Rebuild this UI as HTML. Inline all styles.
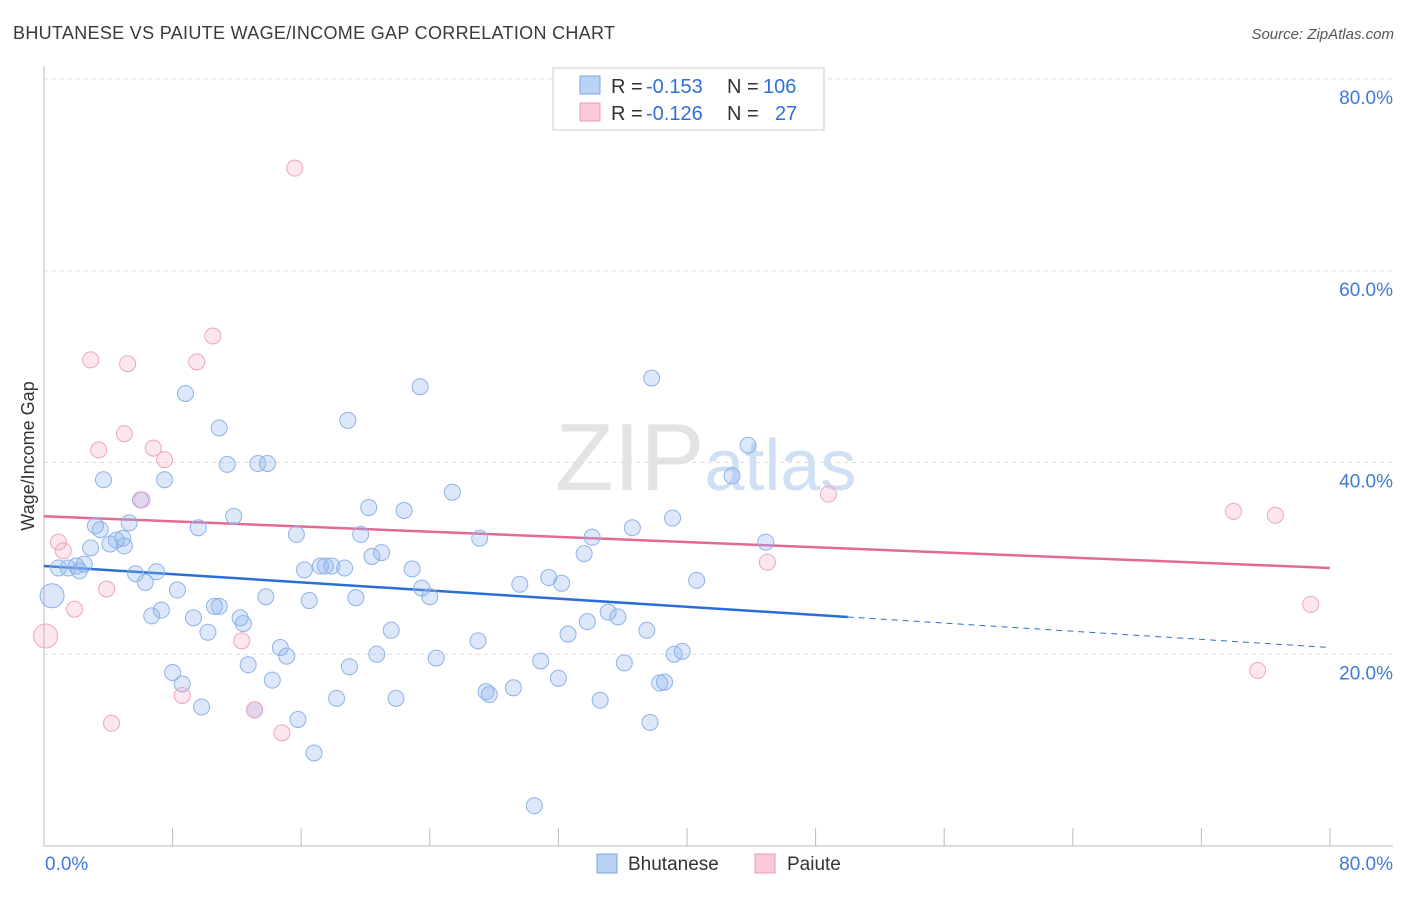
<!DOCTYPE html>
<html><head><meta charset="utf-8"><style>
body{margin:0;background:#fff;font-family:"Liberation Sans",sans-serif;}
svg text{font-family:"Liberation Sans",sans-serif;}
</style></head><body>
<svg id="chart" width="1406" height="892" xmlns="http://www.w3.org/2000/svg">
<text x="13" y="39" font-size="18" fill="#3a3a3a" textLength="602">BHUTANESE VS PAIUTE WAGE/INCOME GAP CORRELATION CHART</text>
<text x="1394" y="39" font-size="15" fill="#555" text-anchor="end" font-style="italic">Source: ZipAtlas.com</text>
<text x="555" y="490" font-size="96" fill="#e3e3e3" font-family="Liberation Serif">ZIP<tspan fill="#cfe0f5" font-family="Liberation Sans" font-size="72">atlas</tspan></text>
<text transform="translate(34,456) rotate(-90)" font-size="18" fill="#333" text-anchor="middle">Wage/Income Gap</text>
<g id="grid"></g><g id="axes"></g><g id="lines"></g><g id="points"></g>
<g>
<rect x="553" y="68" width="271" height="62" fill="#fff" stroke="#ccc"/>
<rect x="580" y="76" width="20" height="18" fill="#b8d3f5" stroke="#7aa6e0"/>
<rect x="580" y="103" width="20" height="18" fill="#f9c9d8" stroke="#ec9ab4"/>
<text x="611" y="93" font-size="20" fill="#333">R =</text>
<text x="646" y="93" font-size="20" fill="#2f6fd6">-0.153</text>
<text x="727" y="93" font-size="20" fill="#333">N =</text>
<text x="763" y="93" font-size="20" fill="#2f6fd6">106</text>
<text x="611" y="120" font-size="20" fill="#333">R =</text>
<text x="646" y="120" font-size="20" fill="#2f6fd6">-0.126</text>
<text x="727" y="120" font-size="20" fill="#333">N =</text>
<text x="775" y="120" font-size="20" fill="#2f6fd6">27</text>
</g>
<g>
<rect x="597" y="854" width="20" height="19" fill="#b8d3f5" stroke="#7aa6e0"/>
<text x="628" y="870" font-size="19" fill="#333">Bhutanese</text>
<rect x="755" y="854" width="20" height="19" fill="#f9c9d8" stroke="#ec9ab4"/>
<text x="787" y="870" font-size="19" fill="#333">Paiute</text>
</g>
</svg>
<script>
const yTicks=[20,40,60,80];
const xTickVals=[0,8,16,24,32,40,48,56,64,72,80];
const blueX=[0.5,0.9,1.5,2.0,2.2,2.5,2.9,3.2,3.5,3.7,4.1,4.5,4.9,5.0,5.3,5.7,6.0,6.3,6.7,7.0,7.3,7.5,8.0,8.3,8.6,8.8,9.3,9.6,9.8,10.2,10.6,10.9,10.9,11.4,11.8,12.2,12.4,12.7,13.1,13.3,13.8,13.9,14.2,14.7,15.1,15.7,15.8,16.2,16.5,16.8,17.2,17.5,17.9,18.2,18.7,18.9,19.0,19.4,19.7,20.2,20.4,20.7,21.0,21.6,21.9,22.4,22.9,23.4,23.5,24.0,24.4,25.4,27.0,27.1,27.5,27.7,29.2,29.6,30.5,30.9,31.4,32.0,32.2,32.6,33.6,33.8,34.1,34.6,35.1,35.7,36.1,36.6,37.5,37.7,37.8,38.3,38.6,39.1,39.2,39.7,40.6,42.8,43.8,44.9];
const blueY=[26.1,29.0,29.0,29.2,28.7,29.4,31.1,33.4,33.0,38.2,31.5,31.9,32.1,31.3,33.7,28.4,36.1,27.5,24.0,28.6,24.6,38.2,18.1,26.7,16.9,47.2,23.8,33.2,14.5,22.3,25.0,43.6,25.0,39.8,34.4,23.8,23.2,18.9,14.2,39.9,26.0,39.9,17.3,20.7,19.8,32.5,13.2,28.8,25.6,9.7,29.2,29.2,29.2,15.4,29.0,44.4,18.7,25.9,32.5,35.3,30.2,20.0,30.6,22.5,15.4,35.0,28.9,47.9,26.9,26.0,19.6,36.9,21.4,32.1,16.1,15.8,16.5,27.3,4.2,19.3,28.0,17.5,27.4,22.1,30.5,23.4,32.2,15.2,24.4,23.9,19.1,33.2,22.5,12.9,48.8,17.0,17.1,34.2,20.0,20.3,27.7,38.6,41.8,31.7];
const pinkX=[0.1,0.9,1.2,1.9,2.9,3.4,3.9,4.2,5.0,5.2,6.1,6.8,7.5,8.6,9.5,10.5,12.3,13.1,14.8,15.6,45.0,48.8,74.0,76.6,78.8,75.5];
const pinkY=[21.9,31.7,30.8,24.7,50.7,41.3,26.8,12.8,43.0,50.3,36.1,41.5,40.3,15.7,50.5,53.2,21.4,14.2,11.8,70.7,29.6,36.7,34.9,34.5,25.2,18.3];
const blueTrend=[29.2,20.7];
const pinkTrend=[34.4,29.0];
const blueSolidEnd=50;

const NS="http://www.w3.org/2000/svg";
const X0=44,X1=1330,Y0=846,Y80=79;
const xs=v=>X0+(X1-X0)*v/80;
const ys=v=>Y0-(Y0-Y80)*v/80;
function mk(tag,attrs,parent){const e=document.createElementNS(NS,tag);for(const k in attrs)e.setAttribute(k,attrs[k]);document.getElementById(parent).appendChild(e);return e;}

yTicks.forEach(t=>{
 const l=mk('line',{x1:X0,x2:1393,y1:ys(t),y2:ys(t),stroke:'#ddd','stroke-dasharray':'4,4'},'grid');
 
 
 const tx=mk('text',{x:1393,y:ys(t)+25,'font-size':19,fill:'#3f7ad6','text-anchor':'end'},'grid');
 tx.textContent=t.toFixed(1)+'%';
 
 
});
const ya=mk('line',{x1:X0,x2:X0,y1:66,y2:Y0,stroke:'#bbb'},'axes');


const xa=mk('line',{x1:X0,x2:1393,y1:Y0,y2:Y0,stroke:'#bbb'},'axes');


xTickVals.forEach(t=>{
 const l=mk('line',{x1:xs(t),x2:xs(t),y1:828,y2:Y0,stroke:'#bbb'},'axes');
 
 
});
const xl0=mk('text',{x:45,y:870,'font-size':19,fill:'#3f7ad6'},'axes');xl0.textContent='0.0%';


const xl1=mk('text',{x:1393,y:870,'font-size':19,fill:'#3f7ad6','text-anchor':'end'},'axes');xl1.textContent='80.0%';



function drawPts(X,Y,fill,stroke,name){
 X.forEach((v,i)=>{
  const big=(i===0);
  const c=mk('circle',{cx:xs(v),cy:ys(Y[i]),r:big?12:8,fill:fill,stroke:stroke,'stroke-width':1},'points');
  
  
 });
}
drawPts(blueX,blueY,'rgba(140,180,240,0.3)','#8db3e6','bhutanese');
drawPts(pinkX,pinkY,'rgba(245,170,200,0.28)','#efa5bd','paiute');

const bAt=v=>blueTrend[0]+(blueTrend[1]-blueTrend[0])*v/80;
const b1=mk('line',{x1:xs(0),y1:ys(bAt(0)),x2:xs(blueSolidEnd),y2:ys(bAt(blueSolidEnd)),stroke:'#2a6fd6','stroke-width':2.5},'lines');


const b2=mk('line',{x1:xs(blueSolidEnd),y1:ys(bAt(blueSolidEnd)),x2:xs(80),y2:ys(bAt(80)),stroke:'#2a6fd6','stroke-width':1,'stroke-dasharray':'6,5'},'lines');


const p1=mk('line',{x1:xs(0),y1:ys(pinkTrend[0]),x2:xs(80),y2:ys(pinkTrend[1]),stroke:'#e46a95','stroke-width':2.5},'lines');


</script>
</body></html>
